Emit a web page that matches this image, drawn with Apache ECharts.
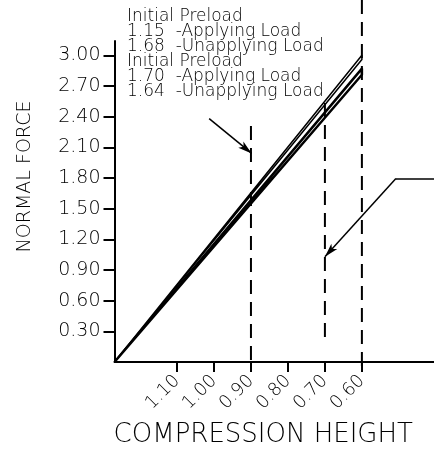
<!DOCTYPE html>
<html>
<head>
<meta charset="utf-8">
<script src="https://cdn.jsdelivr.net/npm/echarts@6/dist/echarts.min.js"></script>
<style>
html,body{margin:0;padding:0;background:#fff;}
#chart{width:434px;height:454px;}
</style>
</head>
<body>
<div id="chart"></div>
<script>
// ---- data ----
const heightTicks = [1.10, 1.00, 0.90, 0.80, 0.70, 0.60];
const forceTicks = [0.30, 0.60, 0.90, 1.20, 1.50, 1.80, 2.10, 2.40, 2.70, 3.00];
// each loop: applying from the start height down to 0.60, then unapplying back
const loopHeights = [1.269, 0.60, 0.60, 1.269];
const preload1Forces = [0, 3.00, 2.96, 0];
const preload2Forces = [0, 2.87, 2.81, 0];
const markHeights = [0.90, 0.70, 0.60];
const noteLines = [
  'Initial Preload',
  '1.15  -Applying Load',
  '1.68  -Unapplying Load',
  'Initial Preload',
  '1.70  -Applying Load',
  '1.64  -Unapplying Load'
];

const FONT = '"DejaVu Sans", sans-serif';
const X_MIN = 0.405, X_MAX = 1.269;
const zip = (xs, ys) => xs.map((x, i) => [x, ys[i]]);

const chart = echarts.init(document.getElementById('chart'), null, {renderer: 'canvas'});
const dashPattern = [14, 8];

const option = {
  animation: false,
  backgroundColor: '#fff',
  grid: [
    {left: 114.5, right: 0, top: 41, bottom: 92},
    {left: 114.5, right: 0, top: 0, bottom: 82}
  ],
  xAxis: [
    {
      type: 'value', gridIndex: 0, inverse: true, min: X_MIN, max: X_MAX,
      axisLine: {lineStyle: {color: '#000', width: 2}},
      axisTick: {show: true, customValues: heightTicks, length: 10, lineStyle: {color: '#000', width: 2}},
      axisLabel: {
        customValues: heightTicks, rotate: 45, margin: 16, color: '#000',
        fontFamily: FONT, fontWeight: 200, fontSize: 18,
        formatter: v => v.toFixed(2)
      },
      splitLine: {show: false},
      name: 'COMPRESSION HEIGHT', nameLocation: 'middle', nameGap: 60,
      nameTextStyle: {color: '#000', fontFamily: FONT, fontWeight: 200, fontSize: 26, padding: [0, 22, 0, 0]}
    },
    {type: 'value', gridIndex: 1, inverse: true, min: X_MIN, max: X_MAX, show: false}
  ],
  yAxis: [
    {
      type: 'value', gridIndex: 0, min: 0, max: 3.14,
      axisLine: {show: true, lineStyle: {color: '#000', width: 2}},
      axisTick: {show: true, customValues: forceTicks, length: 11, lineStyle: {color: '#000', width: 2}},
      axisLabel: {
        customValues: forceTicks, margin: 14, color: '#000',
        fontFamily: FONT, fontWeight: 200, fontSize: 19,
        formatter: v => v.toFixed(2)
      },
      splitLine: {show: false},
      name: 'NORMAL FORCE', nameLocation: 'middle', nameGap: 80,
      nameTextStyle: {color: '#000', fontFamily: FONT, fontWeight: 200, fontSize: 19, padding: [0, 0, 0, 50]}
    },
    {type: 'value', gridIndex: 1, min: -0.0977, max: 3.5376, show: false}
  ],
  graphic: [{
    type: 'text', left: 127, top: 8,
    style: {text: noteLines.join('\n'), fill: '#000', font: '200 17px ' + FONT, lineHeight: 15}
  }],
  series: [
    {
      type: 'line', xAxisIndex: 0, yAxisIndex: 0, symbol: 'none',
      data: zip(loopHeights, preload1Forces),
      lineStyle: {color: '#000', width: 1.5},
      markLine: {
        silent: true, symbol: ['none', 'arrow'], symbolSize: [6, 14], animation: false,
        label: {show: false},
        lineStyle: {color: '#000', width: 1.5, type: 'solid'},
        data: [
          [{coord: [1.013, 2.38]}, {coord: [0.898, 2.04]}],
          [{coord: [X_MIN, 1.795], symbol: 'none'}, {coord: [0.508, 1.795], symbol: 'none'}],
          [{coord: [0.508, 1.795], symbol: 'none'}, {coord: [0.70, 1.03]}]
        ]
      }
    },
    {
      type: 'line', xAxisIndex: 0, yAxisIndex: 0, symbol: 'none',
      data: zip(loopHeights, preload2Forces),
      lineStyle: {color: '#000', width: 2.5}
    },
    {
      type: 'line', xAxisIndex: 1, yAxisIndex: 1, symbol: 'none',
      data: [[markHeights[0], 2.306], [markHeights[0], 0]],
      lineStyle: {color: '#000', width: 2, type: dashPattern}
    },
    {
      type: 'line', xAxisIndex: 1, yAxisIndex: 1, symbol: 'none',
      data: [[markHeights[1], 2.53], [markHeights[1], 0.176]],
      lineStyle: {color: '#000', width: 2, type: dashPattern}
    },
    {
      type: 'line', xAxisIndex: 1, yAxisIndex: 1, symbol: 'none',
      data: [[markHeights[2], 3.5376], [markHeights[2], -0.0977]],
      lineStyle: {color: '#000', width: 2, type: dashPattern}
    }
  ]
};
chart.setOption(option);
</script>
</body>
</html>
